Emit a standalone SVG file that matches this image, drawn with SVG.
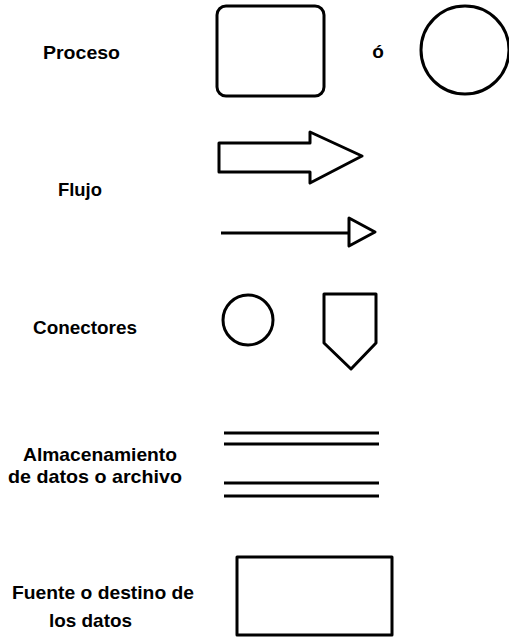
<svg xmlns="http://www.w3.org/2000/svg" width="509" height="637" viewBox="0 0 509 637">
  <style>
    .lbl { font-family: "Liberation Sans", Arial, sans-serif; font-weight: bold; font-size: 19px; fill: #000; }
    .shp { fill: #fff; stroke: #000; stroke-width: 3; stroke-linejoin: round; }
    .ln { stroke: #000; stroke-width: 3; fill: none; }
  </style>
  <rect width="509" height="637" fill="#fff"/>

  <g id="proceso">
    <text class="lbl" x="43" y="59" textLength="77" lengthAdjust="spacingAndGlyphs">Proceso</text>
    <rect class="shp" x="217" y="6" width="107" height="90" rx="9"/>
    <text class="lbl" x="378" y="58" font-size="18" text-anchor="middle">ó</text>
    <circle class="shp" cx="465" cy="50" r="44"/>
  </g>

  <g id="flujo">
    <text class="lbl" x="58" y="196" textLength="44" lengthAdjust="spacingAndGlyphs">Flujo</text>
    <polygon class="shp" points="219,143 310,143 310,132 362,156 310,183 310,172 219,172"/>
    <line class="ln" x1="221" y1="233" x2="349" y2="233"/>
    <polygon class="shp" points="349,218 375,232 349,246"/>
  </g>

  <g id="conectores">
    <text class="lbl" x="33" y="334" textLength="104" lengthAdjust="spacingAndGlyphs">Conectores</text>
    <circle class="shp" cx="248" cy="320" r="25"/>
    <polygon class="shp" points="324,294 376,294 376,343 351,369 324,343"/>
  </g>

  <g id="almacenamiento">
    <text class="lbl" x="23" y="461" textLength="154" lengthAdjust="spacingAndGlyphs">Almacenamiento</text>
    <text class="lbl" x="8" y="483" textLength="174" lengthAdjust="spacingAndGlyphs">de datos o archivo</text>
    <line class="ln" x1="224" y1="433" x2="379" y2="433"/>
    <line class="ln" x1="224" y1="444" x2="379" y2="444"/>
    <line class="ln" x1="224" y1="483" x2="379" y2="483"/>
    <line class="ln" x1="224" y1="496" x2="379" y2="496"/>
  </g>

  <g id="fuente">
    <text class="lbl" x="12" y="599" textLength="182" lengthAdjust="spacingAndGlyphs">Fuente o destino de</text>
    <text class="lbl" x="49" y="627" textLength="83" lengthAdjust="spacingAndGlyphs">los datos</text>
    <rect class="shp" x="237" y="557" width="155" height="78"/>
  </g>

  <g id="connectors"></g>
</svg>
